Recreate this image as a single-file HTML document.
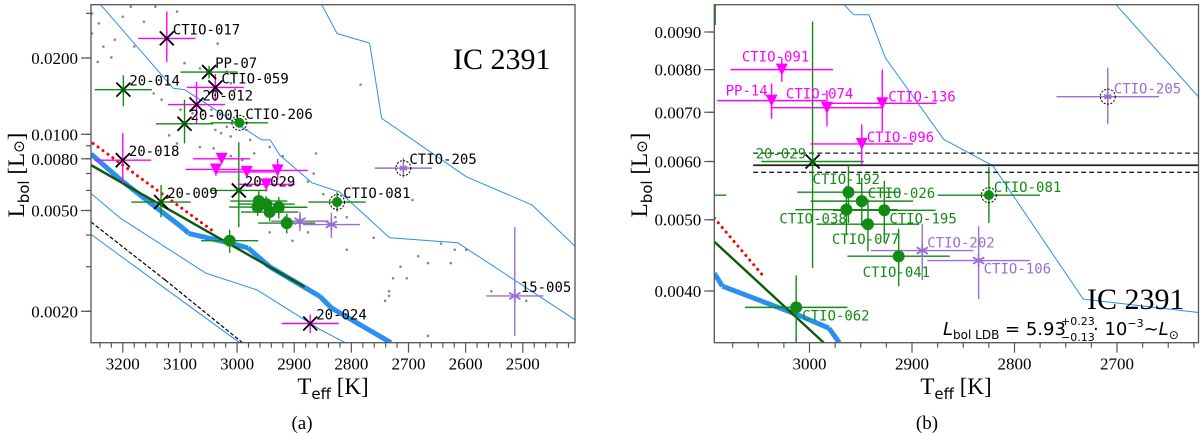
<!DOCTYPE html>
<html><head><meta charset="utf-8"><style>
html,body{margin:0;padding:0;background:#fff;width:1200px;height:436px;overflow:hidden}
svg{display:block}
.tk{font-family:"Liberation Serif",serif;font-size:17px;fill:#000}
.lab{font-family:"DejaVu Sans Mono","Liberation Mono",monospace;font-size:14px}
</style></head><body>
<svg id="chart" width="1200" height="436" viewBox="0 0 1200 436" xmlns="http://www.w3.org/2000/svg">
<defs>
<clipPath id="clipL"><rect x="91" y="4.7" width="484" height="338"/></clipPath>
<clipPath id="clipR"><rect x="714.3" y="4.7" width="484.2" height="338"/></clipPath>
</defs>
</svg>
<script>
// ---- star data ----
const names=["CTIO-017","PP-07","CTIO-059","20-014","20-012","20-001","CTIO-206","20-018","20-009","20-029","20-024","CTIO-081","CTIO-205","15-005","CTIO-091","PP-14","CTIO-074","CTIO-136","CTIO-096","CTIO-192","CTIO-026","CTIO-038","CTIO-195","CTIO-077","CTIO-041","CTIO-062","CTIO-202","CTIO-106"];
const teff=[3123,3049,3038,3199,3071,3092,2996,3200,3133,2997,2872,2825,2709,2514,3027,3037,2983,2929,2949,2962,2949,2964,2927,2943,2913,3013,2890,2835];
const lbol=[0.0239,0.0176,0.0153,0.0150,0.0131,0.0110,0.0111,0.0079,0.0054,0.0060,0.00179,0.0054,0.00735,0.0023,0.0080,0.00726,0.0071,0.0072,0.00634,0.00545,0.0053,0.00516,0.00515,0.00493,0.00446,0.0038,0.00454,0.0044];
const terr=[50,50,50,50,50,50,50,50,52,50,50,50,50,50,50,53,55,53,50,50,50,50,50,50,50,50,50,50];
const lerrLo=[0.0046,0.001,0.0018,0.0021,0.0021,0.0018,0.0004,0.0015,0.0007,0.0017,0.00015,0.00045,0.0006,0.0007,0.0003,0.0004,0.0004,0.0006,0.0004,0.0005,0.0004,0.0004,0.0005,0.0004,0.0004,0.0004,0.0004,0.0005];
const lerrHi=[0.0066,0.001,0.0020,0.0021,0.0030,0.0027,0.0004,0.0022,0.0009,0.0033,0.00015,0.0005,0.0007,0.0020,0.0003,0.0004,0.0004,0.0008,0.0004,0.0005,0.0004,0.0004,0.0005,0.0004,0.0004,0.0004,0.0004,0.0005];
const kinds=["xm","xg","xm","xg","xm","xg","cr","xm","xg","xg","xm","cr","sr","s","t","t","t","t","t","c","c","c","c","c","c","c","s","s"];
const leftLabeled=["CTIO-017","PP-07","CTIO-059","20-014","20-012","20-001","CTIO-206","20-018","20-009","20-029","20-024","CTIO-081","CTIO-205","15-005"];
// field stars (gray dots)
const fieldT=[3254,3242,3234,3214,3254,3200,3186,3143,3105,3163,3244,3220,3180,3092,3065,3034,3018,3011,3004,2784,3146,3132,3099,3078,3045,3018,3038,3028,3011,2984,2977,3119,3105,3065,3041,2970,2943,2920,2862,2866,2876,2849,2828,2808,2693,2761,2808,2643,2619,2599,2683,2666,2626,2714,2727,2703,2734,2734,2741,2555,2494,2666,2889,3011,2991,2943,2916,2876,2903];
const fieldL=[0.0300,0.0274,0.0222,0.0236,0.0250,0.0291,0.0319,0.0319,0.0305,0.0278,0.0193,0.0201,0.0222,0.0191,0.0182,0.0228,0.0177,0.0159,0.0150,0.0157,0.0145,0.0137,0.0125,0.0121,0.0125,0.0107,0.0104,0.0101,0.0098,0.0104,0.0095,0.0099,0.0092,0.0089,0.0088,0.0084,0.0089,0.0082,0.0084,0.0070,0.0065,0.0058,0.0047,0.0047,0.0055,0.0039,0.0035,0.0037,0.0035,0.0035,0.0033,0.0031,0.0031,0.0030,0.0027,0.0027,0.0024,0.0023,0.0022,0.0024,0.0022,0.0016,0.0046,0.0082,0.0079,0.0041,0.0047,0.0041,0.0038];
// isochrones / tracks
const isoA_T=[3239,3112,3092,2957,2942,2926,2869,2821,2733,2614,2390];
const isoA_L=[0.0325,0.0152,0.0150,0.0095,0.0095,0.0083,0.00643,0.00592,0.0039,0.00373,0.00174];
const isoB_T=[2852,2825,2768,2747,2599,2484,2409];
const isoB_L=[0.0325,0.0250,0.0229,0.01156,0.0068,0.00526,0.00362];
const isoC_T=[3262,3204,3055,2965,2854,2810];
const isoC_L=[0.0060,0.00466,0.00283,0.00243,0.00169,0.0015];
const isoD_T=[3262,3130,2995];
const isoD_L=[0.00412,0.0025,0.0015];
const dashT=[3262,3126,2990];
const dashL=[0.00462,0.00266,0.0015];
const thickT=[3262,3200,3093,3085,3011,2981,2943,2855,2835,2730];
const thickL=[0.0086,0.0065,0.00423,0.00406,0.00371,0.00356,0.0030,0.00229,0.00206,0.0015];
const ldbLineT=[3262,2882];
const ldbLineL=[0.00770,0.0025];
const redT=[3252,3045];
const redL=[0.0092,0.00419];
const ldbValue=0.00593, ldbHi=0.00616, ldbLo=0.0058;
// ticks
const leftXTicks=[3200,3100,3000,2900,2800,2700,2600,2500];
const leftYTicks=[0.0200,0.0100,0.0080,0.0050,0.0020];
const leftYTickLabels=["0.0200","0.0100","0.0080","0.0050","0.0020"];
const rightXTicks=[3000,2900,2800,2700];
const rightYTicks=[0.0090,0.0080,0.0070,0.0060,0.0050,0.0040];
const rightYTickLabels=["0.0090","0.0080","0.0070","0.0060","0.0050","0.0040"];

const NS="http://www.w3.org/2000/svg";
const svg=document.getElementById('chart');
function mk(tag,attrs,parent){const e=document.createElementNS(NS,tag);for(const k in attrs)e.setAttribute(k,attrs[k]);(parent||svg).appendChild(e);return e;}

const panels={
 left:{x0:91,x1:575,y0:4.7,y1:342.7,
   x:T=>122.8+(3200-T)*0.5714, y:L=>58-Math.log10(L/0.02)*253.3,
   tmin:2410,tmax:3260,minorStep:20,clip:'clipL'},
 right:{x0:714.3,x1:1198.5,y0:4.7,y1:342.7,
   x:T=>809.5+(3000-T)*1.025, y:L=>32-Math.log10(L/0.009)*735.4,
   tmin:2625,tmax:3090,minorStep:25,clip:'clipR'}
};
const rightOff={"CTIO-091":[-40,-13],"PP-14":[-46,-10],"CTIO-074":[-41,-14],"CTIO-136":[6,-7],"CTIO-096":[5,-7],"20-029":[-57,-8],"CTIO-192":[-36,-13],"CTIO-026":[6,-8],"CTIO-038":[-67,9],"CTIO-195":[5,8],"CTIO-077":[-36,15],"CTIO-041":[-36,16],"CTIO-062":[6,8],"CTIO-081":[5,-8],"CTIO-202":[5,-8],"CTIO-106":[5,8],"CTIO-205":[6,-8]};
const BLUE="#2b8ff0",GREEN="#138a13",MAG="#ff00ff",PURP="#9a6fcf";
function barColor(k){return (k==="xm"||k==="t")?MAG:(k==="s"||k==="sr")?PURP:GREEN;}

// Liang-Barsky segment clip to panel rectangle
function clipSeg(P,ax,ay,bx,by){
  let t0=0,t1=1;const dx=bx-ax,dy=by-ay;
  const p=[-dx,dx,-dy,dy],q=[ax-P.x0,P.x1-ax,ay-P.y0,P.y1-ay];
  for(let i=0;i<4;i++){
    if(p[i]===0){if(q[i]<0)return null;}
    else{const r=q[i]/p[i];if(p[i]<0){if(r>t1)return null;if(r>t0)t0=r;}else{if(r<t0)return null;if(r<t1)t1=r;}}
  }
  return [ax+t0*dx,ay+t0*dy,ax+t1*dx,ay+t1*dy];
}
function poly(P,Ts,Ls,attrs,g,name){
  let d="";
  for(let i=0;i<Ts.length-1;i++){
    const s=clipSeg(P,P.x(Ts[i]),P.y(Ls[i]),P.x(Ts[i+1]),P.y(Ls[i+1]));
    if(s) d+="M"+s[0].toFixed(1)+","+s[1].toFixed(1)+"L"+s[2].toFixed(1)+","+s[3].toFixed(1);
  }
  if(!d) return;
  const e=mk('path',Object.assign({d:d,fill:"none",'stroke-linejoin':'round'},attrs),g);
  
  
}
function cl(v,a,b){return Math.max(a,Math.min(b,v));}

function drawPanel(key){
  const P=panels[key];
  const g=mk('g',{'clip-path':'url(#'+P.clip+')'});
  
  
  if(key==='left'){
    fieldT.forEach((t,i)=>{const c=mk('circle',{cx:P.x(t),cy:P.y(fieldL[i]),r:1.3,fill:"#888"},g);
      
      });
  }
  poly(P,isoA_T,isoA_L,{stroke:BLUE,'stroke-width':1},g,'isochrone-a');
  poly(P,isoB_T,isoB_L,{stroke:BLUE,'stroke-width':1},g,'isochrone-b');
  poly(P,isoC_T,isoC_L,{stroke:BLUE,'stroke-width':1},g,'isochrone-c');
  poly(P,isoD_T,isoD_L,{stroke:BLUE,'stroke-width':1},g,'isochrone-d');
  poly(P,dashT,dashL,{stroke:"#000",'stroke-width':1.2,'stroke-dasharray':'4,2'},g,'dashed-track');
  poly(P,thickT,thickL,{stroke:BLUE,'stroke-width':5},g,'ldb-isochrone-thick');
  poly(P,ldbLineT,ldbLineL,{stroke:"#0a5a0a",'stroke-width':2.4},g,'ldb-fit-line');
  poly(P,redT,redL,{stroke:"#f00",'stroke-width':3,'stroke-dasharray':'0.1,6','stroke-linecap':'round'},g,'red-dotted-line');
  if(key==='right'){
    const xs=P.x(3055),xe=P.x1;
    [[ldbValue,"none",1.8,'ldb-luminosity-line'],[ldbHi,"5,3",1.3,'ldb-upper-line'],[ldbLo,"5,3",1.3,'ldb-lower-line']].forEach(a=>{
      const l=mk('line',{x1:xs,x2:xe,y1:P.y(a[0]),y2:P.y(a[0]),stroke:"#222",'stroke-width':a[2],'stroke-dasharray':a[1]},g);
      
      
    });
  }
  // error bars (clamped to panel)
  names.forEach((n,i)=>{
    const cx=P.x(teff[i]),cy=P.y(lbol[i]),col=barColor(kinds[i]);
    if(cx<P.x0-60||cx>P.x1+60||cy<P.y0-60||cy>P.y1+60) return;
    const eb=mk('g',{stroke:col,'stroke-width':1.4},g);
    
    
    mk('line',{x1:cl(P.x(teff[i]+terr[i]),P.x0,P.x1),x2:cl(P.x(teff[i]-terr[i]),P.x0,P.x1),y1:cy,y2:cy},eb);
    mk('line',{x1:cx,x2:cx,y1:cl(P.y(lbol[i]+lerrHi[i]),P.y0,P.y1),y2:cl(P.y(lbol[i]-lerrLo[i]),P.y0,P.y1)},eb);
  });
  // markers
  names.forEach((n,i)=>{
    const cx=P.x(teff[i]),cy=P.y(lbol[i]),k=kinds[i];
    if(cx<P.x0-10||cx>P.x1+10||cy<P.y0-10||cy>P.y1+10) return;
    const m=mk('g',{},g);
    
    
    if(k==="xm"||k==="xg"){
      const s=7;
      mk('line',{x1:cx-s,y1:cy-s,x2:cx+s,y2:cy+s,stroke:"#000",'stroke-width':1.8},m);
      mk('line',{x1:cx-s,y1:cy+s,x2:cx+s,y2:cy-s,stroke:"#000",'stroke-width':1.8},m);
      if(k==="xg") mk('circle',{cx:cx,cy:cy,r:3,fill:GREEN,opacity:0.6},m);
    } else if(k==="c"||k==="cr"){
      mk('circle',{cx:cx,cy:cy,r:k==="cr"?5:6,fill:GREEN},m);
      if(k==="cr") mk('circle',{cx:cx,cy:cy,r:7.5,fill:"none",stroke:"#000",'stroke-width':1,'stroke-dasharray':'2,1.5'},m);
    } else if(k==="t"){
      mk('polygon',{points:(cx-6)+","+(cy-6)+" "+(cx+6)+","+(cy-6)+" "+cx+","+(cy+6),fill:MAG},m);
    } else {
      const s=k==="sr"?4:6.5;
      for(let a=0;a<3;a++){const th=a*Math.PI/3+Math.PI/2;
        mk('line',{x1:cx-s*Math.cos(th),y1:cy-s*Math.sin(th),x2:cx+s*Math.cos(th),y2:cy+s*Math.sin(th),stroke:PURP,'stroke-width':1.8},m);}
      if(k==="sr") mk('circle',{cx:cx,cy:cy,r:7.5,fill:"none",stroke:"#000",'stroke-width':1,'stroke-dasharray':'2,1.5'},m);
    }
    // labels
    let off=null,col="#000";
    if(key==='left'&&leftLabeled.indexOf(n)>=0) off=[6,-9];
    if(key==='right'&&rightOff[n]){off=rightOff[n];col=barColor(k==="xg"?"c":k);}
    if(off){
      const t=mk('text',{x:cx+off[0],y:cy+off[1]+5,class:'lab',fill:col},g);
      t.textContent=n;
      
      
    }
  });
  // frame
  const fr=mk('rect',{x:P.x0,y:P.y0,width:P.x1-P.x0,height:P.y1-P.y0,fill:"none",stroke:"#555",'stroke-width':1.3});
  
  
  // x ticks
  const xt=mk('g',{stroke:"#555",'stroke-width':1.2});
  
  
  for(let T=Math.ceil(P.tmin/P.minorStep)*P.minorStep;T<=P.tmax;T+=P.minorStep){
    const x=P.x(T); if(x<P.x0||x>P.x1) continue;
    const major=T%100===0;
    mk('line',{x1:x,x2:x,y1:P.y1,y2:P.y1+(major?10:5)},xt);
  }
  const xtl=(key==='left')?leftXTicks:rightXTicks;
  xtl.forEach(T=>{const t=mk('text',{x:P.x(T),y:P.y1+27,'text-anchor':'middle',class:'tk'});t.textContent=T;
    
    });
  // y ticks
  const yt=mk('g',{stroke:"#555",'stroke-width':1.2});
  
  
  const ys=(key==='left')?leftYTicks:rightYTicks, yl=(key==='left')?leftYTickLabels:rightYTickLabels;
  const minors=[0.0015,0.002,0.003,0.004,0.005,0.006,0.007,0.008,0.009,0.01,0.02,0.03];
  minors.forEach(L=>{const y=P.y(L);if(y<P.y0||y>P.y1)return;mk('line',{x1:P.x0-5,x2:P.x0,y1:y,y2:y},yt);});
  ys.forEach((L,i)=>{const y=P.y(L);mk('line',{x1:P.x0-10,x2:P.x0,y1:y,y2:y},yt);
    const t=mk('text',{x:P.x0-13,y:y+6,'text-anchor':'end',class:'tk'});t.textContent=yl[i];
    
    });
}
drawPanel('left');
drawPanel('right');
</script>
<script>
(function(){
const NS="http://www.w3.org/2000/svg";const svg=document.getElementById('chart');
function add(html){const g=document.createElementNS(NS,'g');g.innerHTML=html;svg.appendChild(g);return g;}
add(`
<text x="453" y="69" font-family="Liberation Serif,serif" font-size="30">IC 2391</text>
<text x="1087" y="309" font-family="Liberation Serif,serif" font-size="30">IC 2391</text>
<g transform="translate(24,175) rotate(-90)">
 <text text-anchor="middle" font-family="Liberation Serif,serif" font-size="23">L<tspan font-family="DejaVu Sans,sans-serif" font-size="15" dy="5">bol</tspan><tspan dy="-5"> [L</tspan><tspan font-family="DejaVu Sans,sans-serif" font-size="15">⊙</tspan>]</text></g>
<g transform="translate(647,175) rotate(-90)">
 <text text-anchor="middle" font-family="Liberation Serif,serif" font-size="23">L<tspan font-family="DejaVu Sans,sans-serif" font-size="15" dy="5">bol</tspan><tspan dy="-5"> [L</tspan><tspan font-family="DejaVu Sans,sans-serif" font-size="15">⊙</tspan>]</text></g>
<text x="333" y="394" text-anchor="middle" font-family="Liberation Serif,serif" font-size="23">T<tspan font-family="DejaVu Sans,sans-serif" font-size="15" dy="5">eff</tspan><tspan dy="-5"> [K]</tspan></text>
<text x="956" y="394" text-anchor="middle" font-family="Liberation Serif,serif" font-size="23">T<tspan font-family="DejaVu Sans,sans-serif" font-size="15" dy="5">eff</tspan><tspan dy="-5"> [K]</tspan></text>
<text x="302" y="429" text-anchor="middle" font-family="Liberation Serif,serif" font-size="19">(a)</text>
<text x="927" y="429" text-anchor="middle" font-family="Liberation Serif,serif" font-size="19">(b)</text>
<g font-family="DejaVu Sans,sans-serif">
 <text x="943" y="335" font-size="18"><tspan font-style="italic">L</tspan><tspan font-size="12" dy="4">bol LDB</tspan><tspan dy="-4"> = 5.93</tspan></text>
 <text x="1061" y="325" font-size="11">+0.23</text>
 <text x="1061" y="341" font-size="11">−0.13</text>
 <text x="1093" y="335" font-size="18">· 10<tspan font-size="11" dy="-8">−3</tspan><tspan dy="8">~</tspan><tspan font-style="italic">L</tspan><tspan font-size="12" dy="4">⊙</tspan></text>
</g>`);
})();
</script>
</body></html>
